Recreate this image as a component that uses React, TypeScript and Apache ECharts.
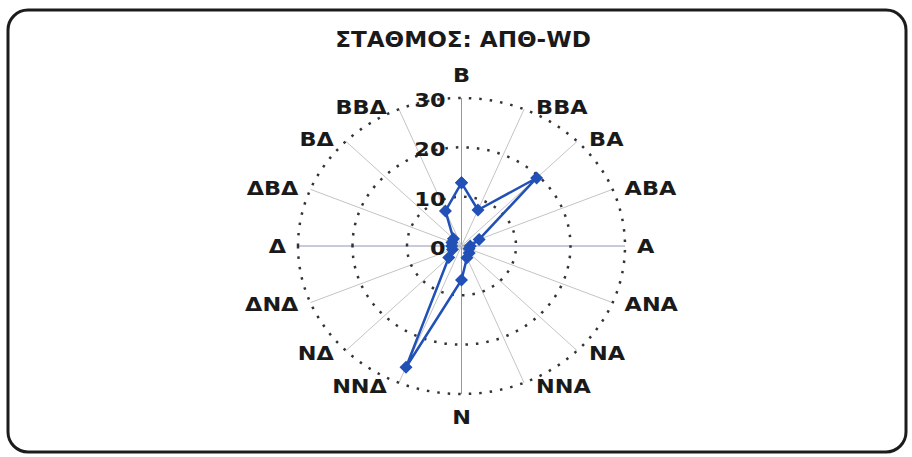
import React, { useEffect, useRef } from 'react';
import * as echarts from 'echarts';

const chartTitle = 'ΣΤΑΘΜΟΣ: ΑΠΘ-WD';
const directions = ['Β', 'ΒΒΑ', 'ΒΑ', 'ΑΒΑ', 'Α', 'ΑΝΑ', 'ΝΑ', 'ΝΝΑ', 'Ν', 'ΝΝΔ', 'ΝΔ', 'ΔΝΔ', 'Δ', 'ΔΒΔ', 'ΒΔ', 'ΒΒΔ'];
const values = [12.8, 7.9, 19.5, 3.5, 1.6, 1.5, 2.0, 2.6, 6.9, 26.6, 3.3, 1.8, 1.8, 1.9, 2.1, 7.7];
const radialTicks = [0, 10, 20, 30];
const maxValue = 30;

const FONT = '"DejaVu Sans", Verdana, sans-serif';
const TEXT_COLOR = '#1a1a1a';
const SERIES_COLOR = '#2150b6';

function toXY(v: number, i: number): number[] {
  const a = (i / directions.length) * 2 * Math.PI;
  return [v * Math.sin(a), v * Math.cos(a)];
}

export default function App() {
  const ref = useRef<HTMLDivElement>(null);

  useEffect(() => {
    if (!ref.current) return;
    const chart = echarts.init(ref.current, undefined, { renderer: 'svg' });

    const lineData = values.map((v, i) => toXY(v, i));
    lineData.push(toXY(values[0], 0));

    const option: any = {
      animation: false,
      backgroundColor: '#ffffff',
      graphic: [
        {
          type: 'text',
          x: 463,
          y: 40,
          scaleX: 1.1,
          style: {
            text: chartTitle,
            font: 'bold 21px ' + FONT,
            fill: TEXT_COLOR,
            align: 'center',
            verticalAlign: 'middle',
          },
          z: 100,
        },
        {
          type: 'rect',
          shape: { x: 8, y: 10, width: 898, height: 442, r: 20 },
          style: { fill: 'none', stroke: '#1c1c1c', lineWidth: 3 },
          z: 100,
        },
      ],
      grid: { left: 298, right: 287, top: 98, bottom: 63 },
      xAxis: { type: 'value', min: -maxValue, max: maxValue, show: false },
      yAxis: { type: 'value', min: -maxValue, max: maxValue, show: false },
      series: [
        {
          type: 'custom',
          name: 'spokes',
          coordinateSystem: 'cartesian2d',
          silent: true,
          z: 1,
          data: directions.map((d, i) => [...toXY(maxValue, i), i]),
          renderItem: (params: any, api: any) => {
            const c = api.coord([0, 0]);
            const e = api.coord([api.value(0), api.value(1)]);
            const idx = api.value(2);
            const main = idx % 4 === 0;
            return {
              type: 'line',
              shape: { x1: c[0], y1: c[1], x2: e[0], y2: e[1] },
              style: { stroke: main ? '#8e96b4' : '#c4c4c4', lineWidth: 1 },
            };
          },
        },
        {
          type: 'custom',
          name: 'rings',
          coordinateSystem: 'cartesian2d',
          silent: true,
          z: 2,
          data: radialTicks.filter((t) => t > 0).map((t) => [t, t]),
          renderItem: (params: any, api: any) => {
            const v = api.value(0);
            const c = api.coord([0, 0]);
            const p = api.coord([v, v]);
            return {
              type: 'ellipse',
              shape: { cx: c[0], cy: c[1], rx: p[0] - c[0], ry: c[1] - p[1] },
              style: { fill: 'none', stroke: '#333333', lineWidth: 2.5, lineDash: [2.5, 8] },
            };
          },
        },
        {
          type: 'custom',
          name: 'tickLabels',
          coordinateSystem: 'cartesian2d',
          silent: true,
          z: 5,
          data: radialTicks.map((t) => [0, t]),
          renderItem: (params: any, api: any) => {
            const t = api.value(1);
            const p = api.coord([0, t]);
            return {
              type: 'text',
              x: p[0] - 16,
              y: p[1] + 2,
              scaleX: 1.12,
              style: {
                text: String(t),
                font: 'bold 20px ' + FONT,
                fill: TEXT_COLOR,
                align: 'right',
                verticalAlign: 'middle',
              },
            };
          },
        },
        {
          type: 'custom',
          name: 'dirLabels',
          coordinateSystem: 'cartesian2d',
          silent: true,
          z: 5,
          data: directions.map((d, i) => [...toXY(maxValue, i), i]),
          renderItem: (params: any, api: any) => {
            const i = api.value(2);
            const p = api.coord([api.value(0), api.value(1)]);
            const a = (i / directions.length) * 2 * Math.PI;
            const s = Math.sin(a);
            const c = Math.cos(a);
            let x = p[0];
            let y = p[1];
            let align = 'center';
            let vAlign = 'middle';
            if (Math.abs(s) < 0.01) {
              if (c > 0) { vAlign = 'bottom'; y -= 13; } else { vAlign = 'top'; y += 13; }
            } else {
              align = s > 0 ? 'left' : 'right';
              x += s > 0 ? 12 : -12;
              y += -c * 3;
            }
            return {
              type: 'text',
              x,
              y,
              scaleX: 1.12,
              style: {
                text: directions[i],
                font: 'bold 20px ' + FONT,
                fill: TEXT_COLOR,
                align,
                verticalAlign: vAlign,
              },
            };
          },
        },
        {
          type: 'line',
          name: 'ΑΠΘ-WD',
          z: 10,
          data: lineData,
          symbol: 'diamond',
          symbolSize: 13,
          lineStyle: { color: SERIES_COLOR, width: 2.5 },
          itemStyle: { color: SERIES_COLOR },
        },
      ],
    };

    chart.setOption(option);
    return () => chart.dispose();
  }, []);

  return (
    <div
      ref={ref}
      style={{ position: 'fixed', left: 0, top: 0, width: 912, height: 457 }}
    />
  );
}
